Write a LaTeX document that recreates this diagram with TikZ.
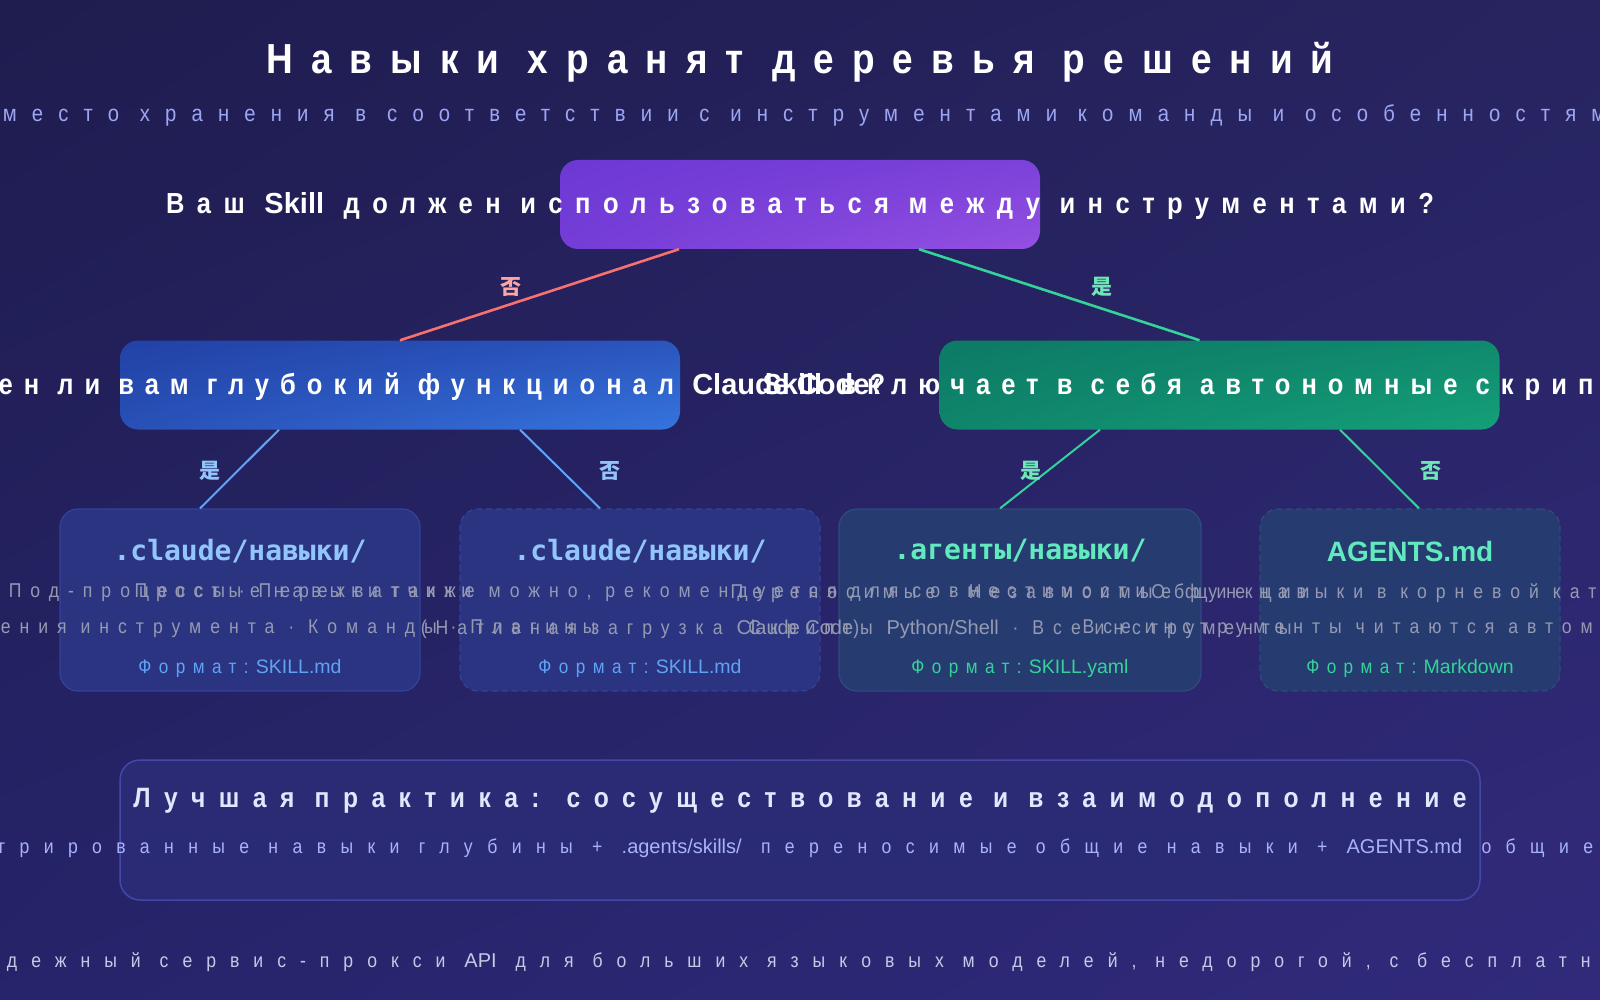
\documentclass[tikz,border=0pt]{standalone}
\usepackage{fontspec}
\setmainfont{Liberation Sans}[FakeStretch=0.88]
\newfontfamily\latinfont{Liberation Sans}
\newfontfamily\monofont{DejaVu Sans Mono}
\newfontfamily\cjkfont{Noto Sans CJK SC}
\newcommand\latn[1]{{\latinfont #1}}
\newcommand\trk[1]{\addfontfeature{LetterSpace=#1}}
\newcommand\fsz[1]{\fontsize{#1}{#1}\selectfont}
\usetikzlibrary{calc,shadings}
\definecolor{bgUL}{HTML}{1F1C4F}
\definecolor{bgUR}{HTML}{272460}
\definecolor{bgLL}{HTML}{26246A}
\definecolor{bgLR}{HTML}{312A7C}
\definecolor{rootA}{HTML}{6C38D4}
\definecolor{rootB}{HTML}{9450E2}
\definecolor{blueA}{HTML}{2241A6}
\definecolor{blueB}{HTML}{3674DE}
\definecolor{greenA}{HTML}{0D7A66}
\definecolor{greenB}{HTML}{14A078}
\definecolor{edgeRed}{HTML}{F87171}
\definecolor{edgeGreen}{HTML}{34D399}
\definecolor{edgeBlue}{HTML}{60A5FA}
\definecolor{lblRed}{HTML}{FCA5A5}
\definecolor{lblGreen}{HTML}{6EE7B7}
\definecolor{lblBlue}{HTML}{93C5FD}
\definecolor{leafBlueFill}{HTML}{2B3480}
\definecolor{leafBlueDraw}{HTML}{36419A}
\definecolor{leafGreenFill}{HTML}{263C70}
\definecolor{leafGreenDraw}{HTML}{30497E}
\definecolor{bodyGray}{HTML}{959AB2}
\definecolor{fmtBlue}{HTML}{5FA3F7}
\definecolor{fmtGreen}{HTML}{34D399}
\definecolor{subLav}{HTML}{9CA6F2}
\definecolor{bestFill}{HTML}{2B2A74}
\definecolor{bestDraw}{HTML}{4547A8}
\definecolor{bestTitle}{HTML}{E2E6FF}
\definecolor{bestLine}{HTML}{A8B2FA}
\definecolor{footGray}{HTML}{C5C9E6}
\tikzset{
  qbox/.style={rounded corners=18pt, minimum width=#1, minimum height=89pt, inner sep=0pt},
  qtext/.style={text=white, font=\fsz{29}\bfseries\trk{43}, inner sep=0pt},
  midtext/.style={text=white, font=\fsz{29}\bfseries\trk{38}, inner sep=0pt},
  leafbox/.style={rounded corners=18pt, minimum width=#1, minimum height=182pt, inner sep=0pt, line width=1.2pt},
  leaftitle/.style={font=\fsz{28}\monofont\bfseries, inner sep=0pt},
  leafbody/.style={text=bodyGray, font=\fsz{20}\trk{45}, inner sep=0pt},
  leaffmt/.style={font=\fsz{19.5}\trk{38}, inner sep=0pt},
  edgeline/.style={line width=2.6pt},
  yn/.style={font=\fsz{21}\cjkfont\bfseries, inner sep=0pt},
}
\begin{document}
\begin{tikzpicture}[x=1pt,y=-1pt]
\useasboundingbox (0,0) rectangle (1600,1000);
\shade[upper left=bgUL, upper right=bgUR, lower left=bgLL, lower right=bgLR] (0,0) rectangle (1600,1000);

% title and subtitle
\node[text=white, font=\fsz{42}\bfseries\trk{43}, inner sep=0pt] (title) at (800,62) {Навыки хранят деревья решений};
\node[text=subLav, font=\fsz{23}\trk{66}, inner sep=0pt] (subtitle) at (800,115) {Выберите место хранения в соответствии с инструментами команды и особенностями проекта};

% question boxes
\node[qbox=480pt, shade, upper left=rootA, lower left=rootA!80!rootB, upper right=rootA!60!rootB, lower right=rootB] (root) at (800,204.5) {};
\node[qbox=560pt, shade, upper left=blueA, lower left=blueA!70!blueB, upper right=blueA!60!blueB, lower right=blueB] (lm) at (400,385) {};
\node[qbox=560pt, shade, upper left=greenA, lower left=greenA!70!greenB, upper right=greenA!60!greenB, lower right=greenB] (rm) at (1219.5,385) {};

% leaf boxes
\node[leafbox=360pt, fill=leafBlueFill, draw=leafBlueDraw] (l1) at (240,600) {};
\node[leafbox=360pt, fill=leafBlueFill, draw=leafBlueDraw, dashed, dash pattern=on 6pt off 4pt] (l2) at (640,600) {};
\node[leafbox=362pt, fill=leafGreenFill, draw=leafGreenDraw] (l3) at (1020,600) {};
\node[leafbox=300pt, fill=leafGreenFill, draw=leafGreenDraw, dashed, dash pattern=on 6pt off 4pt] (l4) at (1410,600) {};

% connectors
\draw[edgeline, edgeRed] ($(root.south)+(-121,0)$) -- (lm.north);
\draw[edgeline, edgeGreen] ($(root.south)+(119,0)$) -- ($(rm.north)+(-20,0)$);
\draw[edgeline, edgeBlue, line width=2pt] ($(lm.south)+(-121,0)$) -- ($(l1.north)+(-40,0)$);
\draw[edgeline, edgeBlue, line width=2pt] ($(lm.south)+(120,0)$) -- ($(l2.north)+(-40,0)$);
\draw[edgeline, edgeGreen, line width=2pt] ($(rm.south)+(-119.5,0)$) -- ($(l3.north)+(-20,0)$);
\draw[edgeline, edgeGreen, line width=2pt] ($(rm.south)+(120.5,0)$) -- ($(l4.north)+(9,0)$);

% yes/no labels
\node[yn, text=lblRed] (no1) at (511,287) {否};
\node[yn, text=lblGreen] (yes1) at (1102,287) {是};
\node[yn, text=lblBlue] (yes2) at (210,471) {是};
\node[yn, text=lblBlue] (no2) at (610,471) {否};
\node[yn, text=lblGreen] (yes3) at (1031,471) {是};
\node[yn, text=lblGreen] (no3) at (1431,471) {否};

% question texts
\node[qtext] (rootq) at (800,206) {Ваш \latn{Skill} должен использоваться между инструментами?};
\node[midtext] (lmq) at (400,387) {Нужен ли вам глубокий функционал \latn{Claude Code}?};
\node[midtext] (rmq) at (1219.5,387) {\latn{Skill} включает в себя автономные скрипты?};

% leaf contents
\node[leaftitle, text=lblBlue] (l1t) at (240,551) {.claude/навыки/};
\node[leaftitle, text=lblBlue] (l2t) at (640,551) {.claude/навыки/};
\node[leaftitle, text=lblGreen!90!cyan] (l3t) at (1020,551) {.агенты/навыки/};
\node[text=lblGreen!90!cyan, font=\fsz{28}\latinfont\bfseries, inner sep=0pt] (l4t) at (1410,551) {AGENTS.md};

\node[leafbody] (l1a) at (240,593) {Под-процессы · Перехватчики};
\node[leafbody] (l1b) at (240,629) {Разрешения инструмента · Команды · Плагины};
\node[leafbody] (l2a) at (640,593) {Простые навыки также можно, рекомендуется для совместимости};
\node[leafbody] (l2b) at (640,629) {(Нативная загрузка \latn{Claude Code})};
\node[leafbody] (l3a) at (1020,593) {Переносимые · Независимые функции};
\node[leafbody] (l3b) at (1020,629) {Скрипты \latn{Python/Shell} · Все инструменты};
\node[leafbody] (l4a) at (1410,593) {Общие навыки в корневой каталог};
\node[leafbody] (l4b) at (1410,629) {Все инструменты читаются автоматически};

\node[leaffmt, text=fmtBlue] (l1f) at (240,668) {Формат:\latn{ SKILL.md}};
\node[leaffmt, text=fmtBlue] (l2f) at (640,668) {Формат:\latn{ SKILL.md}};
\node[leaffmt, text=fmtGreen] (l3f) at (1020,668) {Формат:\latn{ SKILL.yaml}};
\node[leaffmt, text=fmtGreen] (l4f) at (1410,668) {Формат:\latn{ Markdown}};

% best practice box
\node[rounded corners=20pt, minimum width=1360pt, minimum height=140pt, fill=bestFill, draw=bestDraw, line width=1.5pt, inner sep=0pt] (best) at (800,830) {};
\node[text=bestTitle, font=\fsz{28}\bfseries\trk{48}, inner sep=0pt] (bestt) at (800,801) {Лучшая практика: сосуществование и взаимодополнение};
\node[text=bestLine, font=\fsz{20}\trk{72}, inner sep=0pt] (bestl) at (800,848) {\latn{.claude/skills/} интегрированные навыки глубины + \latn{.agents/skills/} переносимые общие навыки + \latn{AGENTS.md} общие инструкции};

% footer
\node[text=footGray, font=\fsz{20}\trk{70}, inner sep=0pt] (footer) at (800,962) {Надежный сервис-прокси \latn{API} для больших языковых моделей, недорогой, с бесплатным};
\end{tikzpicture}
\end{document}
